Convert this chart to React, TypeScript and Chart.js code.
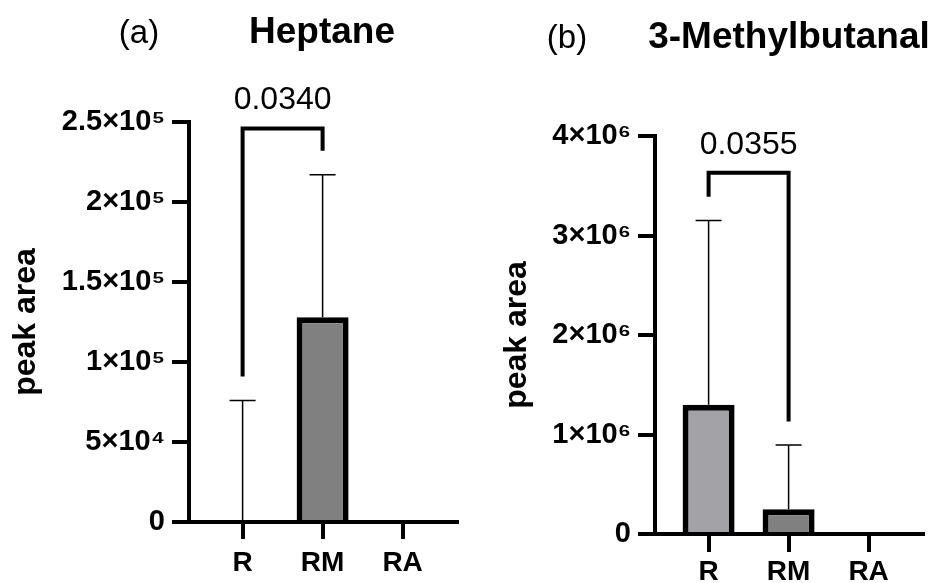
import React, { useEffect, useRef } from 'react';
import { Chart, registerables } from 'chart.js';

Chart.register(...registerables);

const FONT = "'Liberation Sans', Arial, Helvetica, sans-serif";

// ---- data ----
const categories = ['R', 'RM', 'RA'];
const barColors = ['#a3a3a7', '#808080', '#808080'];

const heptaneMeans = [0, 128000, 0];
const heptaneErrors = [76000, 89000, 0];
const heptaneTickValues = [0, 50000, 100000, 150000, 200000, 250000];
const heptaneTickLabels = ['0', '5×10⁴', '1×10⁵', '1.5×10⁵', '2×10⁵', '2.5×10⁵'];
const heptaneBracket = { from: 0, to: 1, top: 246000, leftEnd: 91000, rightEnd: 232000 };
const heptaneP = '0.0340';

const methylMeans = [1300000, 250000, 0];
const methylErrors = [1850000, 645000, 0];
const methylTickValues = [0, 1000000, 2000000, 3000000, 4000000];
const methylTickLabels = ['0', '1×10⁶', '2×10⁶', '3×10⁶', '4×10⁶'];
const methylBracket = { from: 0, to: 1, top: 3630000, leftEnd: 3390000, rightEnd: 1130000 };
const methylP = '0.0355';

type Spec = {
  letter: string;
  title: string;
  letterX: number;
  titleX: number;
  titleY: number;
  means: number[];
  errors: number[];
  tickValues: number[];
  tickLabels: string[];
  bracket: { from: number; to: number; top: number; leftEnd: number; rightEnd: number };
  p: string;
  area: { left: number; right: number; top: number; bottom: number };
  yTitlePad: number;
  xTickLen: number;
  xLabelPad: number;
  width: number;
  height: number;
  offsetX: number;
};

const specA: Spec = {
  letter: '(a)',
  title: 'Heptane',
  letterX: 139,
  titleX: 322,
  titleY: 43,
  means: heptaneMeans,
  errors: heptaneErrors,
  tickValues: heptaneTickValues,
  tickLabels: heptaneTickLabels,
  bracket: heptaneBracket,
  p: heptaneP,
  area: { left: 189, right: 457, top: 122, bottom: 522 },
  yTitlePad: 7,
  xTickLen: 17,
  xLabelPad: 7,
  width: 469,
  height: 583,
  offsetX: 0,
};

const specB: Spec = {
  letter: '(b)',
  title: '3-Methylbutanal',
  letterX: 97,
  titleX: 319,
  titleY: 48,
  means: methylMeans,
  errors: methylErrors,
  tickValues: methylTickValues,
  tickLabels: methylTickLabels,
  bracket: methylBracket,
  p: methylP,
  area: { left: 185, right: 453, top: 136, bottom: 534 },
  yTitlePad: 28,
  xTickLen: 18,
  xLabelPad: 3,
  width: 469,
  height: 583,
  offsetX: 470,
};

function Panel({ spec }: { spec: Spec }) {
  const ref = useRef<HTMLCanvasElement>(null);

  useEffect(() => {
    const s = spec;
    if (!ref.current) return;

    const overlay = {
      id: 'overlay',
      afterDatasetsDraw(chart: any) {
        const ctx = chart.ctx;
        const xs = chart.scales.x;
        const ys = chart.scales.y;
        ctx.save();
        ctx.strokeStyle = '#000';
        ctx.lineWidth = 1.5;
        s.means.forEach((m, i) => {
          const e = s.errors[i];
          if (!e) return;
          const px = xs.getPixelForValue(i);
          const y0 = ys.getPixelForValue(m);
          const y1 = ys.getPixelForValue(m + e);
          ctx.beginPath();
          ctx.moveTo(px, y0);
          ctx.lineTo(px, y1);
          ctx.moveTo(px - 13, y1);
          ctx.lineTo(px + 13, y1);
          ctx.stroke();
        });
        ctx.restore();
      },
      afterDraw(chart: any) {
        const ctx = chart.ctx;
        const xs = chart.scales.x;
        const ys = chart.scales.y;
        const b = s.bracket;
        const xl = xs.getPixelForValue(b.from);
        const xr = xs.getPixelForValue(b.to);
        const yt = ys.getPixelForValue(b.top);
        ctx.save();
        ctx.strokeStyle = '#000';
        ctx.lineWidth = 4;
        ctx.lineJoin = 'miter';
        ctx.lineCap = 'butt';
        ctx.beginPath();
        ctx.moveTo(xl, ys.getPixelForValue(b.leftEnd));
        ctx.lineTo(xl, yt);
        ctx.lineTo(xr, yt);
        ctx.lineTo(xr, ys.getPixelForValue(b.rightEnd));
        ctx.stroke();

        ctx.fillStyle = '#000';
        ctx.textAlign = 'center';
        ctx.textBaseline = 'alphabetic';
        ctx.font = `32px ${FONT}`;
        ctx.fillText(s.p, (xl + xr) / 2, yt - 19);

        ctx.font = `33px ${FONT}`;
        ctx.fillText(s.letter, s.letterX, s.titleY);
        ctx.font = `bold 37px ${FONT}`;
        ctx.fillText(s.title, s.titleX, s.titleY);
        ctx.restore();
      },
    };

    const chart = new Chart(ref.current, {
      type: 'bar',
      data: {
        datasets: [
          {
            data: categories.map((_, i) => ({ x: i, y: s.means[i] })),
            backgroundColor: barColors,
            borderColor: '#000',
            borderWidth: 6,
            categoryPercentage: 0.65,
            barPercentage: 1,
          },
        ],
      },
      options: {
        animation: false,
        responsive: false,
        maintainAspectRatio: false,
        layout: {
          padding: { left: 0, top: s.area.top, right: s.width - s.area.right, bottom: 0 },
        },
        plugins: {
          legend: { display: false },
          tooltip: { enabled: false },
          title: { display: false },
        },
        scales: {
          x: {
            type: 'linear',
            offset: false,
            min: -0.67,
            max: 2.68,
            afterBuildTicks: (sc: any) => {
              sc.ticks = categories.map((_, i) => ({ value: i }));
            },
            afterFit: (sc: any) => {
              sc.height = s.height - s.area.bottom;
            },
            ticks: {
              callback: (_v: any, i: number) => categories[i],
              autoSkip: false,
              maxRotation: 0,
              minRotation: 0,
              padding: s.xLabelPad,
              color: '#000',
              font: { family: FONT, size: 28, weight: 'bold' },
            },
            grid: {
              offset: false,
              drawOnChartArea: false,
              drawTicks: true,
              tickLength: s.xTickLen,
              lineWidth: 4,
              color: '#000',
            },
            border: { display: true, width: 4, color: '#000' },
          },
          y: {
            type: 'linear',
            min: 0,
            max: s.tickValues[s.tickValues.length - 1],
            afterBuildTicks: (sc: any) => {
              sc.ticks = s.tickValues.map((v) => ({ value: v }));
            },
            afterFit: (sc: any) => {
              sc.width = s.area.left;
            },
            ticks: {
              callback: (_v: any, i: number) => s.tickLabels[i],
              autoSkip: false,
              padding: 7,
              color: '#000',
              font: { family: FONT, size: 29, weight: 'bold' },
            },
            grid: {
              drawOnChartArea: false,
              drawTicks: true,
              tickLength: 17,
              lineWidth: 4,
              color: '#000',
            },
            border: { display: true, width: 4, color: '#000' },
            title: {
              display: true,
              text: 'peak area',
              color: '#000',
              font: { family: FONT, size: 32, weight: 'bold' },
              padding: { top: s.yTitlePad, bottom: 0 },
            },
          },
        },
      },
      plugins: [overlay],
    } as any);

    return () => chart.destroy();
  }, [spec]);

  return (
    <div
      style={{
        position: 'absolute',
        left: spec.offsetX,
        top: 0,
        width: spec.width,
        height: spec.height,
      }}
    >
      <canvas
        ref={ref}
        width={spec.width}
        height={spec.height}
        style={{ display: 'block', width: spec.width, height: spec.height }}
      />
    </div>
  );
}

export default function App() {
  return (
    <div
      style={{
        position: 'fixed',
        left: 0,
        top: 0,
        width: 939,
        height: 583,
        background: '#fff',
        overflow: 'hidden',
      }}
    >
      <Panel spec={specA} />
      <Panel spec={specB} />
    </div>
  );
}
